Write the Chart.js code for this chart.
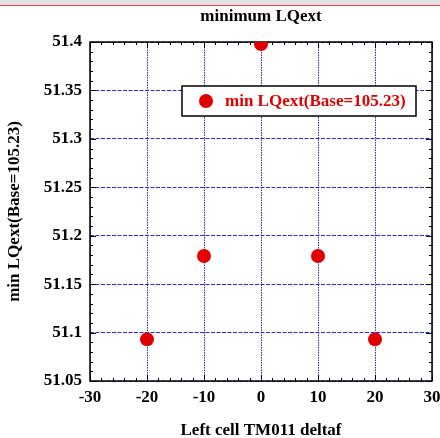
<!DOCTYPE html>
<html>
<head>
<meta charset="utf-8">
<script src="https://cdn.jsdelivr.net/npm/chart.js@4.4.1/dist/chart.umd.min.js"></script>
<style>
  body { margin: 0; background: #fff; }
  #wrap { position: relative; width: 440px; height: 438px; }
  #bar { position: absolute; left: 0; top: 0; width: 440px; height: 5px; background: #e2e2e6; border-bottom: 1px solid #e04040; }
</style>
</head>
<body>
<div id="wrap">
  <canvas id="chartjs-0" width="440" height="438"></canvas>
  <div id="bar"></div>
</div>
<script>
// scan data: minimum LQext vs left cell TM011 detuning
var deltaf = [-20, -10, 0, 10, 20];
var minLQext = [51.093, 51.179, 51.398, 51.179, 51.093];

var seriesLabel = "min LQext(Base=105.23)";
var xTicks = [-30, -20, -10, 0, 10, 20, 30];
var yTicks = [51.05, 51.1, 51.15, 51.2, 51.25, 51.3, 51.35, 51.4];

var serif = "'Liberation Serif', 'Times New Roman', serif";
var red = "#e00000";
var gridBlue = "#2a2ad8";

var points = [];
for (var i = 0; i < deltaf.length; i++) {
    points.push({ x: deltaf[i], y: minLQext[i] });
}

// frame, inward ticks, titles and legend box
var framePlugin = {
    id: "frame",
    beforeDatasetsDraw: function (chart) {
        var ctx = chart.ctx;
        var a = chart.chartArea;
        var xs = chart.scales.x, ys = chart.scales.y;
        ctx.save();
        ctx.strokeStyle = "#000";
        ctx.lineWidth = 1;
        ctx.setLineDash([]);
        ctx.beginPath();
        // x ticks every 2, major every 10
        for (var v = -30; v <= 30; v += 2) {
            var px = Math.round(xs.getPixelForValue(v)) + 0.5;
            var len = (v % 10 === 0) ? 6 : 3;
            ctx.moveTo(px, a.bottom); ctx.lineTo(px, a.bottom - len);
            ctx.moveTo(px, a.top); ctx.lineTo(px, a.top + len);
        }
        // y ticks every 0.01, major every 0.05
        for (var k = 0; k <= 35; k++) {
            var yv = 51.05 + k * 0.01;
            var py = Math.round(ys.getPixelForValue(yv)) + 0.5;
            var ylen = (k % 5 === 0) ? 6 : 3;
            ctx.moveTo(a.left, py); ctx.lineTo(a.left + ylen, py);
            ctx.moveTo(a.right, py); ctx.lineTo(a.right - ylen, py);
        }
        ctx.stroke();
        ctx.lineWidth = 1.5;
        ctx.strokeRect(a.left, a.top, a.right - a.left, a.bottom - a.top);

        // titles
        ctx.fillStyle = "#000";
        ctx.textAlign = "center";
        ctx.textBaseline = "middle";
        ctx.font = "bold 17px " + serif;
        var cx = (a.left + a.right) / 2;
        ctx.fillText("minimum LQext", cx, 17);
        ctx.fillText("Left cell TM011 deltaf", cx, 431);
        ctx.save();
        ctx.translate(15, (a.top + a.bottom) / 2);
        ctx.rotate(-Math.PI / 2);
        ctx.fillText("min LQext(Base=105.23)", 0, 0);
        ctx.restore();
        ctx.restore();
    },
    afterDatasetsDraw: function (chart) {
        var ctx = chart.ctx;
        var a = chart.chartArea;
        var bx = a.left + 92, by = a.top + 44, bw = 234, bh = 30;
        ctx.save();
        ctx.fillStyle = "#fff";
        ctx.fillRect(bx, by, bw, bh);
        ctx.strokeStyle = "#000";
        ctx.lineWidth = 1.5;
        ctx.strokeRect(bx, by, bw, bh);
        ctx.fillStyle = red;
        ctx.beginPath();
        ctx.arc(bx + 24, by + bh / 2, 7, 0, Math.PI * 2);
        ctx.fill();
        ctx.font = "bold 17px " + serif;
        ctx.textAlign = "left";
        ctx.textBaseline = "middle";
        ctx.fillText(seriesLabel, bx + 43, by + bh / 2 + 1);
        ctx.restore();
    }
};

var ctx = document.getElementById("chartjs-0");
var myChart = new Chart(ctx, {
    type: "scatter",
    data: {
        datasets: [{
            label: seriesLabel,
            data: points,
            pointRadius: 7,
            pointHoverRadius: 7,
            pointBackgroundColor: red,
            pointBorderColor: red,
            pointBorderWidth: 0
        }]
    },
    options: {
        responsive: false,
        animation: false,
        events: [],
        layout: { padding: { top: 42, right: 8, left: 0, bottom: 0 } },
        plugins: {
            legend: { display: false },
            title: { display: false },
            tooltip: { enabled: false }
        },
        scales: {
            x: {
                type: "linear",
                min: -30,
                max: 30,
                afterBuildTicks: function (scale) {
                    scale.ticks = xTicks.map(function (v) { return { value: v }; });
                },
                afterFit: function (scale) {
                    scale.height = 57;
                    scale.paddingLeft = 0;
                    scale.paddingRight = 0;
                },
                grid: { color: gridBlue, lineWidth: 1, drawTicks: false },
                border: { display: false, dash: [1.5, 1] },
                ticks: {
                    padding: 6,
                    color: "#000",
                    font: { family: serif, size: 17, weight: "bold" }
                }
            },
            y: {
                type: "linear",
                min: 51.05,
                max: 51.4,
                afterBuildTicks: function (scale) {
                    scale.ticks = yTicks.map(function (v) { return { value: v }; });
                },
                afterFit: function (scale) {
                    scale.width = 90;
                    scale.paddingTop = 0;
                    scale.paddingBottom = 0;
                },
                grid: { color: gridBlue, lineWidth: 1, drawTicks: false },
                border: { display: false, dash: [4, 1.5] },
                ticks: {
                    padding: 8,
                    color: "#000",
                    font: { family: serif, size: 17, weight: "bold" },
                    callback: function (v) { return String(parseFloat(v.toFixed(2))); }
                }
            }
        }
    },
    plugins: [framePlugin]
});
</script>
</body>
</html>
